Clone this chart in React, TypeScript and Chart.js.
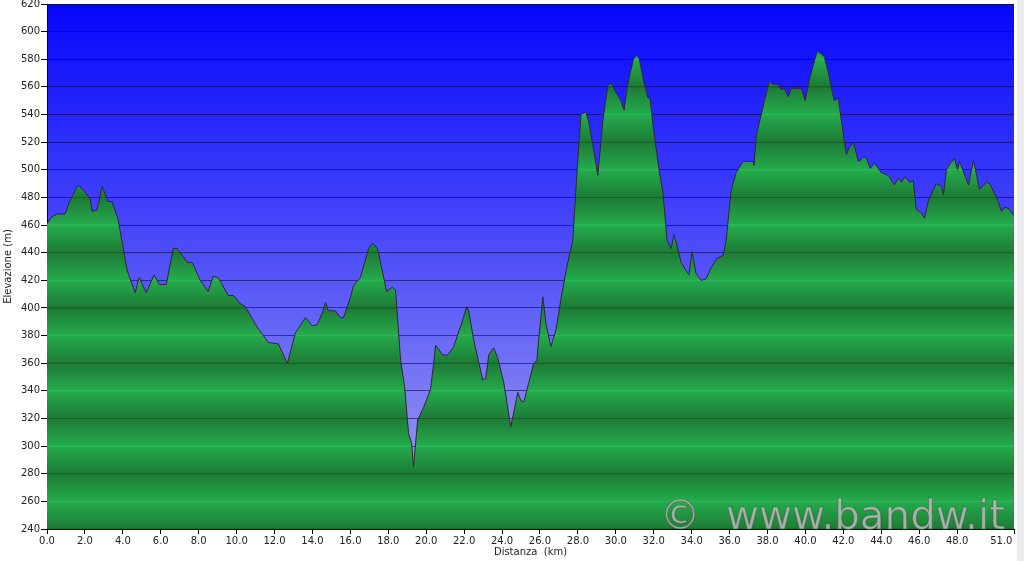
import React, { useEffect, useRef } from "react";
import { Chart, registerables } from "chart.js";

Chart.register(...registerables);

const distanceKm = [
  0.0, 0.26, 0.53, 0.95, 1.22, 1.64, 1.95, 2.27, 2.38, 2.64, 2.91, 3.22, 3.43, 3.75, 4.01, 4.23, 4.65, 4.86,
  5.23, 5.65, 5.92, 6.29, 6.66, 6.87, 7.4, 7.66, 8.08, 8.5, 8.77, 9.03, 9.56, 9.83, 10.2, 10.46, 11.09, 11.67,
  12.2, 12.68, 13.1, 13.63, 14.0, 14.26, 14.53, 14.69, 14.84, 15.21, 15.48, 15.64, 16.01, 16.16, 16.53, 16.96,
  17.17, 17.43, 17.91, 18.22, 18.38, 18.65, 18.86, 19.07, 19.23, 19.33, 19.55, 19.86, 20.23, 20.5, 20.87, 21.13,
  21.45, 21.92, 22.13, 22.24, 22.5, 22.98, 23.14, 23.3, 23.56, 23.77, 24.09, 24.46, 24.83, 24.99, 25.15, 25.41,
  25.67, 25.83, 26.15, 26.31, 26.57, 26.84, 27.1, 27.42, 27.73, 27.89, 28.16, 28.42, 28.58, 28.84, 29.05, 29.32,
  29.58, 29.74, 30.01, 30.27, 30.43, 30.64, 30.91, 31.06, 31.22, 31.49, 31.7, 31.8, 32.01, 32.28, 32.49, 32.7,
  32.91, 33.07, 33.23, 33.44, 33.7, 33.86, 34.02, 34.23, 34.5, 34.76, 35.02, 35.34, 35.66, 35.82, 36.08, 36.35,
  36.71, 37.24, 37.29, 37.4, 37.82, 38.09, 38.3, 38.56, 38.72, 38.88, 39.09, 39.25, 39.78, 39.99, 40.2, 40.46,
  40.62, 40.83, 40.99, 41.2, 41.42, 41.52, 41.73, 41.89, 42.16, 42.31, 42.53, 42.79, 43.05, 43.21, 43.42, 43.64,
  44.0, 44.37, 44.69, 44.9, 45.06, 45.27, 45.48, 45.69, 45.85, 46.12, 46.28, 46.49, 46.91, 47.17, 47.28, 47.44,
  47.7, 47.86, 48.02, 48.13, 48.6, 48.86, 49.18, 49.55, 49.71, 50.08, 50.34, 50.5, 50.71, 51.0,
];

const elevationM = [
  461, 466, 468, 468, 478, 489, 485, 479, 470, 471, 488, 477, 477, 464, 444, 427, 411, 422,
  411, 424, 417, 417, 443, 443, 433, 433, 420, 412, 423, 422, 409, 409, 403, 401, 386, 375,
  374, 360, 382, 393, 387, 388, 397, 404, 398, 398, 393, 393, 408, 416, 422, 443,
  447, 443, 412, 415, 413, 362, 343, 309, 302, 285, 319, 328, 341, 373, 366, 366,
  372, 391, 401, 398, 377, 348, 349, 366, 371, 364, 346, 314, 339, 333, 332, 346,
  360, 362, 408, 389, 372, 384, 406, 430, 449, 485, 540, 542, 534, 514, 496, 536,
  561, 563, 556, 550, 543, 563, 579, 583, 581, 563, 552, 552, 527, 500, 483, 449,
  443, 453, 445, 433, 427, 424, 441, 425, 420, 421, 429, 436, 438, 449, 485, 498,
  506, 506, 503, 524, 549, 564, 562, 562, 558, 559, 553, 559, 559, 550, 565, 578,
  586, 584, 582, 571, 556, 550, 552, 536, 511, 516, 520, 506, 509, 509, 501, 505,
  498, 496, 489, 494, 491, 495, 491, 492, 471, 469, 465, 478, 490, 488, 482, 500,
  506, 508, 500, 506, 489, 507, 486, 491, 490, 480, 470, 473, 472, 467,
];

const xTickValues = [0, 2, 4, 6, 8, 10, 12, 14, 16, 18, 20, 22, 24, 26, 28, 30, 32, 34, 36, 38, 40, 42, 44, 46, 48, 51];
const yMin = 240;
const yMax = 620;
const yStep = 20;

const xTitle = "Distanza  (km)";
const yTitle = "Elevazione (m)";
const watermark = "©  www.bandw.it";

const FONT = "'DejaVu Sans', Verdana, sans-serif";

const backgroundPlugin = {
  id: "profileBackground",
  beforeDraw(chart: any) {
    const { ctx, chartArea, width, height } = chart;
    ctx.save();
    ctx.fillStyle = "#ffffff";
    ctx.fillRect(0, 0, width, height);
    ctx.fillStyle = "#ececec";
    ctx.fillRect(width - 7, 0, 7, height);
    if (chartArea) {
      const g = ctx.createLinearGradient(0, chartArea.top, 0, chartArea.bottom);
      g.addColorStop(0, "rgb(6,6,252)");
      g.addColorStop(0.5, "rgb(82,82,248)");
      g.addColorStop(1, "rgb(168,168,240)");
      ctx.fillStyle = g;
      ctx.fillRect(chartArea.left, chartArea.top, chartArea.right - chartArea.left, chartArea.bottom - chartArea.top);
    }
    ctx.restore();
  },
  afterDraw(chart: any) {
    const { ctx, chartArea } = chart;
    if (!chartArea) return;
    ctx.save();
    ctx.font = `40px ${FONT}`;
    const w = ctx.measureText(watermark).width;
    const targetW = 345;
    const s = targetW / w;
    ctx.translate(chartArea.right - 9 - targetW, chartArea.bottom);
    ctx.scale(s, 1);
    ctx.textBaseline = "alphabetic";
    ctx.fillStyle = "rgba(190,192,190,0.82)";
    ctx.fillText(watermark, 0, 0);
    ctx.lineWidth = 1;
    ctx.strokeStyle = "rgba(80,90,80,0.55)";
    ctx.strokeText(watermark, 0, 0);
    ctx.restore();
  },
};

function greenBands(context: any) {
  const chart = context.chart;
  const { ctx, chartArea, scales } = chart;
  if (!chartArea || !scales.y) return "#22a84a";
  const y = scales.y;
  const top = y.getPixelForValue(yMax);
  const bottom = y.getPixelForValue(yMin);
  const span = bottom - top;
  const g = ctx.createLinearGradient(0, bottom, 0, top);
  const d = 0.8 / span;
  for (let e = yMin; e <= yMax; e += yStep) {
    const pos = (e - yMin) / (yMax - yMin);
    const dark = e % 40 === 0;
    const base = dark ? "rgb(30,124,54)" : "rgb(36,170,76)";
    const line = dark ? "rgb(22,100,42)" : "rgb(44,184,88)";
    if (pos - d > 0) g.addColorStop(pos - d, base);
    g.addColorStop(Math.max(0, pos - d * 0.5), line);
    g.addColorStop(Math.min(1, pos + d * 0.5), line);
    if (pos + d < 1) g.addColorStop(pos + d, base);
  }
  return g;
}

export default function App() {
  const canvasRef = useRef<HTMLCanvasElement | null>(null);

  useEffect(() => {
    document.body.style.margin = "0";
    const canvas = canvasRef.current;
    if (!canvas) return;
    const points = distanceKm.map((d, i) => ({ x: d, y: elevationM[i] }));
    const chart = new Chart(canvas, {
      type: "line",
      data: {
        datasets: [
          {
            data: points,
            borderColor: "#2b2b2b",
            borderWidth: 1,
            pointRadius: 0,
            tension: 0,
            fill: "start",
            backgroundColor: greenBands,
          },
        ],
      },
      plugins: [backgroundPlugin],
      options: {
        animation: false,
        responsive: false,
        maintainAspectRatio: false,
        devicePixelRatio: 1,
        layout: { padding: { top: 4, right: 10, left: 0, bottom: 0 } },
        plugins: { legend: { display: false }, tooltip: { enabled: false } },
        scales: {
          x: {
            type: "linear",
            min: 0,
            max: 51,
            afterBuildTicks: (s: any) => {
              s.ticks = xTickValues.map((v) => ({ value: v }));
            },
            afterFit: (s: any) => {
              s.height = 32;
              s.paddingLeft = 0;
              s.paddingRight = 0;
            },
            ticks: {
              autoSkip: false,
              maxRotation: 0,
              padding: 1,
              color: "#222",
              font: { family: FONT, size: 10 },
              callback: (v: any) => {
                const t = Number(v).toFixed(1);
                return Number(v) === 51 ? t + "        " : t;
              },
            },
            grid: { drawOnChartArea: false, drawTicks: true, tickLength: 5, tickColor: "#000" },
            border: { color: "#000", width: 1 },
            title: {
              display: true,
              text: xTitle,
              color: "#222",
              font: { family: FONT, size: 10 },
              padding: { top: 0, bottom: 3 },
            },
          },
          y: {
            type: "linear",
            min: yMin,
            max: yMax,
            afterFit: (s: any) => {
              s.width = 47;
              s.paddingTop = 0;
              s.paddingBottom = 0;
            },
            ticks: {
              stepSize: yStep,
              padding: 1,
              color: "#222",
              font: { family: FONT, size: 10 },
            },
            grid: { color: "rgba(0,0,60,0.55)", lineWidth: 1, tickLength: 6, tickColor: "#000" },
            border: { color: "#000", width: 1 },
            title: {
              display: true,
              text: yTitle,
              color: "#222",
              font: { family: FONT, size: 10 },
              padding: { top: 2, bottom: 0 },
            },
          },
        },
      },
    });
    return () => chart.destroy();
  }, []);

  return (
    <div style={{ width: 1024, height: 561, position: "relative" }}>
      <canvas ref={canvasRef} width={1024} height={561} style={{ display: "block", width: 1024, height: 561 }} />
    </div>
  );
}
